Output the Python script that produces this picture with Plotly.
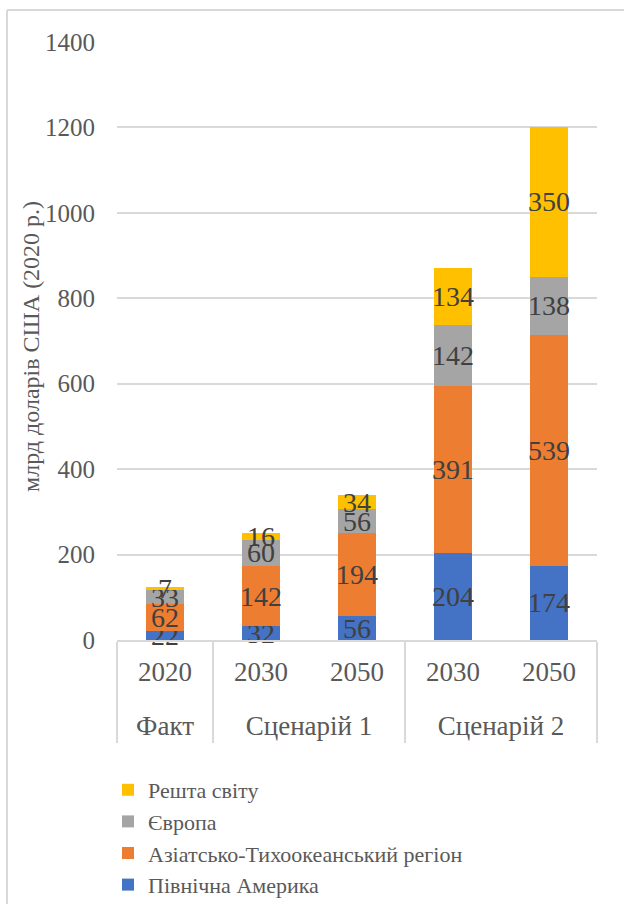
import plotly.graph_objects as go

groups = ["Факт", "Сценарій 1", "Сценарій 1", "Сценарій 2", "Сценарій 2"]
years = ["2020", "2030", "2050", "2030", "2050"]

series_names = ["Північна Америка", "Азіатсько-Тихоокеанський регіон", "Європа", "Решта світу"]
north_america = [22, 32, 56, 204, 174]
asia_pacific = [62, 142, 194, 391, 539]
europe = [33, 60, 56, 142, 138]
rest_of_world = [7, 16, 34, 134, 350]
colors = ["#4472C4", "#ED7D31", "#A5A5A5", "#FFC000"]

y_title = "млрд доларів США (2020 р.)"
y_ticks = [0, 200, 400, 600, 800, 1000, 1200, 1400]

FONT = "Liberation Serif, Times New Roman, serif"

# year labels get an invisible spacer line so the group row sits lower, as in the reference
year_labels = [y + "<br><span style='font-size:2px'>\u00a0</span>" for y in years]

fig = go.Figure()
for name, vals, col in zip(series_names, [north_america, asia_pacific, europe, rest_of_world], colors):
    fig.add_trace(go.Bar(
        x=[groups, year_labels], y=vals, name=name,
        marker=dict(color=col, line=dict(width=0)),
        text=vals, texttemplate="%{text}",
        textposition="inside", insidetextanchor="middle",
        constraintext="none", textangle=0,
        textfont=dict(family=FONT, size=28, color="#404040"),
        cliponaxis=False,
    ))

W, H = 624, 904
L, R, T, B = 117, 27, 42, 264
pw, ph = W - L - R, H - T - B

def px(x):
    return (x - L) / pw

def py(y):
    return (H - B - y) / ph

fig.update_layout(
    width=W, height=H,
    margin=dict(l=L, r=R, t=T, b=B, autoexpand=False),
    barmode="stack", bargap=0.6,
    plot_bgcolor="white", paper_bgcolor="white",
    font=dict(family=FONT, color="#595959"),
    showlegend=True,
    legend=dict(
        traceorder="reversed", orientation="v",
        x=px(108), xanchor="left", y=py(769), yanchor="top",
        font=dict(family=FONT, size=22, color="#595959"),
        itemsizing="constant", tracegroupgap=0,
        bgcolor="rgba(0,0,0,0)",
    ),
    xaxis=dict(
        type="multicategory",
        showline=True, linecolor="#d9d9d9", linewidth=2,
        showdividers=True, dividercolor="#d9d9d9", dividerwidth=2,
        tickfont=dict(family=FONT, size=27, color="#595959"),
        ticklabelstandoff=7,
        showgrid=False,
    ),
    yaxis=dict(
        range=[0, 1400], tickvals=y_ticks,
        showgrid=True, gridcolor="#d9d9d9", gridwidth=2,
        zeroline=False, showline=False,
        tickfont=dict(family=FONT, size=25, color="#595959"),
        ticks="outside", ticklen=16, tickcolor="rgba(0,0,0,0)",
    ),
    annotations=[
        dict(text=y_title, xref="paper", yref="paper", x=px(31), y=py(347),
             xanchor="center", yanchor="middle", textangle=-90, showarrow=False,
             font=dict(family=FONT, size=24, color="#595959")),
    ],
    shapes=[
        dict(type="line", xref="paper", yref="paper", x0=px(7), x1=px(700), y0=py(10), y1=py(10),
             line=dict(color="#d9d9d9", width=2)),
        dict(type="line", xref="paper", yref="paper", x0=px(7), x1=px(7), y0=py(10), y1=py(1000),
             line=dict(color="#d9d9d9", width=2)),
    ],
)

fig.write_html("out.html")
